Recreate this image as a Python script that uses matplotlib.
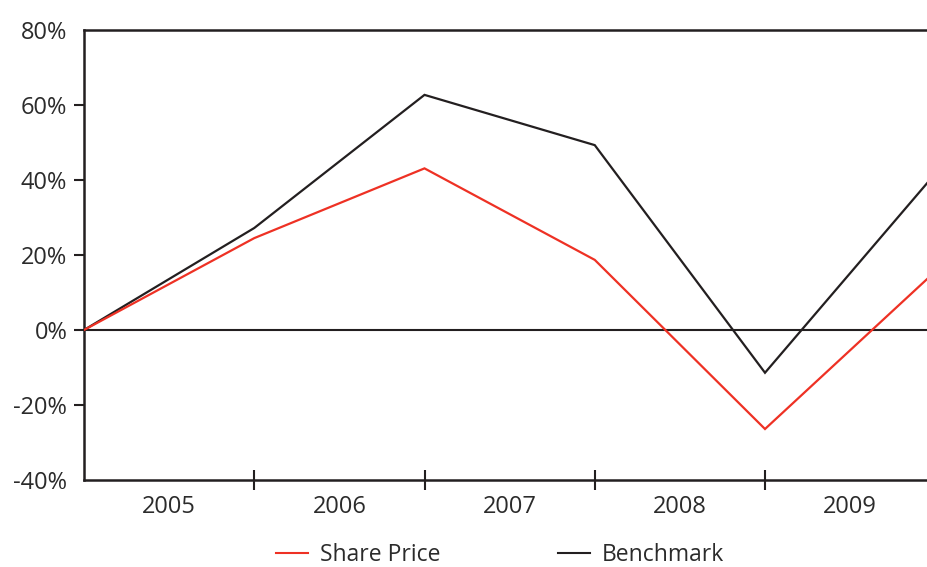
import matplotlib
matplotlib.use("Agg")
import matplotlib.pyplot as plt
from matplotlib.lines import Line2D

plt.rcParams['font.family'] = ['Open Sans', 'DejaVu Sans']

years = ["2005", "2006", "2007", "2008", "2009"]
share_price = [0.0, 24.5, 43.1, 18.7, -26.4, 15.6]
benchmark = [0.0, 27.2, 62.7, 49.3, -11.4, 41.7]
y_ticks = [-40, -20, 0, 20, 40, 60, 80]

RED = "#ee3124"
INK = "#231f20"
TXT = "#2b2b2b"

fig = plt.figure(figsize=(9.28, 5.67), dpi=100)
W, H = 928, 567
left, right, bottom, top = 84, 935.25, 480, 30
ax = fig.add_axes([left / W, 1 - bottom / H, (right - left) / W, (bottom - top) / H])

x = list(range(len(share_price)))
ax.plot(x, benchmark, color=INK, lw=1.6, solid_joinstyle='miter', zorder=3)
ax.plot(x, share_price, color=RED, lw=1.6, solid_joinstyle='miter', zorder=4)
ax.axhline(0, color=INK, lw=1.5, zorder=2)

ax.set_xlim(0, len(years))
ax.set_ylim(-40, 80)

for s in ['left', 'bottom', 'top']:
    ax.spines[s].set_color(INK)
    ax.spines[s].set_linewidth(1.8)
ax.spines['right'].set_visible(False)

# y axis
ax.set_yticks(y_ticks)
ax.set_yticklabels([f"{v}%" for v in y_ticks])
ax.tick_params(axis='y', direction='out', length=7, width=1.5, color=INK,
               labelsize=17, labelcolor=TXT, pad=5)
yt = ax.yaxis.get_major_ticks()
yt[0].tick1line.set_visible(False)
yt[-1].tick1line.set_visible(False)

# x axis: boundary ticks crossing the axis, year labels centred between them
ax.set_xticks(range(1, len(years)))
ax.set_xticklabels([])
ax.tick_params(axis='x', which='major', direction='inout', length=15, width=1.5, color=INK)
ax.set_xticks([i + 0.5 for i in range(len(years))], minor=True)
ax.set_xticklabels(years, minor=True)
ax.tick_params(axis='x', which='minor', length=0, labelsize=17, labelcolor=TXT, pad=11)

handles = [Line2D([], [], color=RED, lw=1.5), Line2D([], [], color=INK, lw=1.5)]
leg = fig.legend(handles, ["Share Price", "Benchmark"], loc='center',
                 bbox_to_anchor=(500 / W, 1 - 555 / H), ncol=2, frameon=False,
                 fontsize=16.5, handlelength=1.4, handletextpad=0.55,
                 columnspacing=5.1, borderaxespad=0)
for t in leg.get_texts():
    t.set_color(TXT)

fig.savefig("out.png", dpi=100)
